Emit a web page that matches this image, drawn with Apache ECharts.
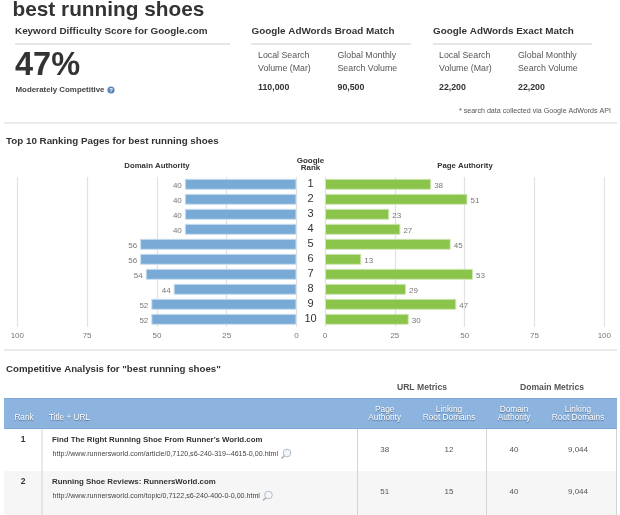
<!DOCTYPE html>
<html><head><meta charset="utf-8">
<style>html,body{margin:0;padding:0;background:#fff}#c{width:620px;height:515px}</style>
<script src="https://cdn.jsdelivr.net/npm/echarts@6/dist/echarts.min.js"></script>
</head><body><div id="c"></div>
<script>
const ranks = ['1','2','3','4','5','6','7','8','9','10'];
const domainAuthority = [40,40,40,40,56,56,54,44,52,52];
const pageAuthority = [38,51,23,27,45,13,53,29,47,30];
const axisTicks = [0,25,50,75,100];
const rowRanks = ['1','2'];
const rowTitles = ["Find The Right Running Shoe From Runner's World.com","Running Shoe Reviews: RunnersWorld.com"];
const rowUrls = ['http://www.runnersworld.com/article/0,7120,s6-240-319--4615-0,00.html','http://www.runnersworld.com/topic/0,7122,s6-240-400-0-0,00.html'];
const rowPA = ['38','51'];
const rowLRD = ['12','15'];
const rowDA = ['40','40'];
const rowDLRD = ['9,044','9,044'];

const FF = '"Liberation Sans", Arial, sans-serif';
const g = [];
function T(x,y,text,size,color,bold,align,extra){
  g.push({type:'text',silent:true,x,y,style:Object.assign({text,fontFamily:FF,fontSize:size,fontWeight:bold?'bold':'normal',fill:color,align:align||'left',verticalAlign:'middle'},extra||{})});
}
function R(x,y,w,h,fill,z){g.push({type:'rect',silent:true,z:z||0,shape:{x,y,width:w,height:h},style:{fill}});}

// Top block
T(12.5,10,'best running shoes',20.8,'#333',true);
T(15,31.5,'Keyword Difficulty Score for Google.com',9.9,'#333',true);
T(251.5,31.5,'Google AdWords Broad Match',9.9,'#333',true);
T(433,31.5,'Google AdWords Exact Match',9.9,'#333',true);
R(15,43,215,2,'#e6e6e6');R(251,43,160,2,'#e6e6e6');R(433,43,159,2,'#e6e6e6');
T(15,66.5,'47%',32.5,'#333',true);
T(15.5,90,'Moderately Competitive',7.9,'#444',true);
g.push({type:'circle',silent:true,shape:{cx:111,cy:90,r:3.6},style:{fill:'#5b84b8'}});
T(111,90.5,'?',6,'#fff',true,'center');
const vol=[[258,'Local Search','Volume (Mar)','110,000'],[337.5,'Global Monthly','Search Volume','90,500'],[439,'Local Search','Volume (Mar)','22,200'],[518,'Global Monthly','Search Volume','22,200']];
vol.forEach(v=>{T(v[0],56,v[1],8.8,'#555');T(v[0],68.5,v[2],8.8,'#555');T(v[0],87.5,v[3],8.8,'#333',true);});
T(611,111.5,'* search data collected via Google AdWords API',7.1,'#555',false,'right');
R(4,122,613,2,'#ebebeb');

// Chart section titles
T(6,141,'Top 10 Ranking Pages for best running shoes',9.8,'#333',true);
T(157,166,'Domain Authority',7.8,'#333',true,'center');
T(465,166,'Page Authority',7.8,'#333',true,'center');
T(310.5,161,'Google',8,'#333',true,'center');
T(310.5,168,'Rank',8,'#333',true,'center');
R(4,349,613,2,'#ebebeb');

// Table
T(6,369,'Competitive Analysis for "best running shoes"',9.7,'#333',true);
T(422,388,'URL Metrics',8.6,'#555',true,'center');
T(552,388,'Domain Metrics',8.6,'#555',true,'center');
R(4,398,613,31,'#8db4de');
R(4,398,613,1,'#7fa8d6');R(4,428,613,1,'#7fa8d6');
R(4,471,613,44,'#f6f6f6');
const sh={textShadowColor:'rgba(60,90,130,0.8)',textShadowBlur:1,textShadowOffsetY:1};
T(24,418,'Rank',8.2,'#fff',false,'center',sh);
T(49,418,'Title + URL',8.2,'#fff',false,'left',sh);
[[384.7,'Page','Authority'],[449,'Linking','Root Domains'],[514,'Domain','Authority'],[578,'Linking','Root Domains']].forEach(h=>{
  T(h[0],409.5,h[1],8.3,'#fff',false,'center',sh);T(h[0],417.7,h[2],8.3,'#fff',false,'center',sh);
});
[41.5,357,486,616].forEach(x=>R(x,429,1,86,'#d4d4d4',2));
const rowY=[440,482];
rowRanks.forEach((r,i)=>{
  const y=rowY[i];
  T(23,y,r,8.5,'#333',true,'center');
  T(52,y,rowTitles[i],7.85,'#333',true);
  T(52.5,y+14,rowUrls[i],7.1,'#444');
  T(384.7,y+10,rowPA[i],8,'#555',false,'center');
  T(449,y+10,rowLRD[i],8,'#555',false,'center');
  T(514,y+10,rowDA[i],8,'#555',false,'center');
  T(578,y+10,rowDLRD[i],8,'#555',false,'center');
});
[[287,453],[268.5,495]].forEach(p=>{
  g.push({type:'circle',silent:true,z:3,shape:{cx:p[0],cy:p[1],r:3.8},style:{fill:'#f2f6fa',stroke:'#b5bcc4',lineWidth:1}});
  g.push({type:'line',silent:true,z:3,shape:{x1:p[0]-2.7,y1:p[1]+2.7,x2:p[0]-5.5,y2:p[1]+5.5},style:{stroke:'#aab0b8',lineWidth:1.6}});
});

const gridTop=176.8, gridH=150;
const splitLine={show:true,lineStyle:{color:'#e2e2e2',width:1.2}};
const labelStyle={color:'#777',fontSize:8,fontFamily:FF,margin:5};
function barSeries(name,data,xi,color,border,pos){
  return {name,type:'bar',xAxisIndex:xi,yAxisIndex:xi,data,barWidth:11,silent:true,
    itemStyle:{color,borderColor:border,borderWidth:1},
    label:{show:true,position:pos,distance:3,offset:[0,1],color:'#777',fontSize:8,fontFamily:FF}};
}
const chart=echarts.init(document.getElementById('c'),null,{renderer:'canvas'});
chart.setOption({
  animation:false,
  backgroundColor:'#fff',
  grid:[
    {left:17.3,width:279.2,top:gridTop,height:gridH},
    {left:325,width:279.3,top:gridTop,height:gridH}
  ],
  xAxis:[
    {gridIndex:0,type:'value',inverse:true,min:axisTicks[0],max:axisTicks[4],interval:25,splitLine,axisLine:{show:false},axisTick:{show:false},axisLabel:labelStyle},
    {gridIndex:1,type:'value',min:axisTicks[0],max:axisTicks[4],interval:25,splitLine,axisLine:{show:false},axisTick:{show:false},axisLabel:labelStyle}
  ],
  yAxis:[
    {gridIndex:0,type:'category',inverse:true,data:ranks,axisLine:{show:false},axisTick:{show:false},axisLabel:{show:false}},
    {gridIndex:1,type:'category',inverse:true,data:ranks,axisLine:{show:false},axisTick:{show:false},
      axisLabel:{show:true,align:'center',margin:14.5,color:'#333',fontSize:11,fontFamily:FF}}
  ],
  series:[
    barSeries('Domain Authority',domainAuthority,0,'#78aad5','#c9def0','left'),
    barSeries('Page Authority',pageAuthority,1,'#8ac44b','#cfe6b4','right')
  ],
  graphic:{elements:g}
});
</script></body></html>
